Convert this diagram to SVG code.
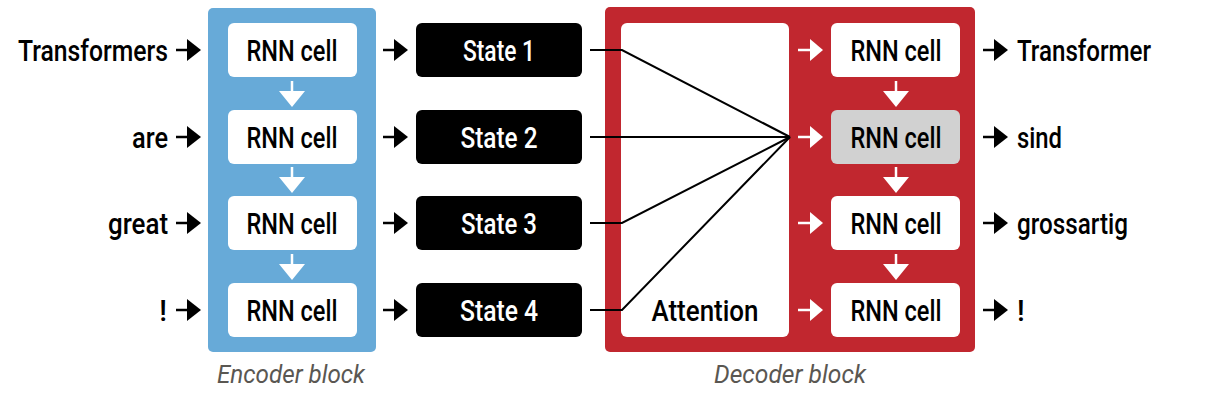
<svg xmlns="http://www.w3.org/2000/svg" width="1210" height="400" viewBox="0 0 1210 400">
  <style>
    .t { font-family: Roboto, "Liberation Sans", Arial, sans-serif; font-weight: 500; font-size: 29px; fill: #000; }
    .tw { font-family: Roboto, "Liberation Sans", Arial, sans-serif; font-weight: 500; font-size: 29px; fill: #fff; }
    .lbl { font-family: Roboto, "Liberation Sans", Arial, sans-serif; font-size: 26px; font-style: italic; fill: #5a5752; }
    .cell { fill: #fff; }
    .cellg { fill: #d1d1d1; }
    .state { fill: #000; }
    .ba { fill: #000; }
    .bs { stroke: #000; stroke-width: 2.5; }
    .wa { fill: #fff; }
    .ws { stroke: #fff; stroke-width: 2.5; }
    .att { stroke: #000; stroke-width: 2; fill: none; }
  </style>
  <defs>
    <g id="rarrow">
      <line class="bs" x1="0" y1="0" x2="13" y2="0"/>
      <polygon class="ba" points="11,-11 25,0 11,11"/>
    </g>
    <g id="wrarrow">
      <line class="ws" x1="0" y1="0" x2="13" y2="0"/>
      <polygon class="wa" points="12,-11 25,0 12,11"/>
    </g>
    <g id="wdarrow">
      <line class="ws" x1="0" y1="0" x2="0" y2="13"/>
      <polygon class="wa" points="-13,10 13,10 0,26"/>
    </g>
  </defs>

  <!-- blocks -->
  <g id="encoder-block">
    <rect x="208" y="8" width="168" height="344" rx="5" fill="#67aad8"/>
    <text class="lbl" x="291" y="383" text-anchor="middle" textLength="148" lengthAdjust="spacingAndGlyphs">Encoder block</text>
  </g>
  <g id="decoder-block">
    <rect x="605" y="7" width="370" height="345" rx="5" fill="#c1272f"/>
    <text class="lbl" x="790" y="383" text-anchor="middle" textLength="152" lengthAdjust="spacingAndGlyphs">Decoder block</text>
  </g>
  <g id="attention">
    <rect x="621" y="23" width="168" height="314" rx="6" fill="#fff"/>
    <text class="t" x="705" y="321" text-anchor="middle" textLength="107" lengthAdjust="spacingAndGlyphs">Attention</text>
  </g>

  <!-- inputs -->
  <g id="in1"><text class="t" x="168" y="61" text-anchor="end" textLength="150" lengthAdjust="spacingAndGlyphs">Transformers</text></g>
  <g id="in2"><text class="t" x="168" y="148" text-anchor="end" textLength="36" lengthAdjust="spacingAndGlyphs">are</text></g>
  <g id="in3"><text class="t" x="168" y="234" text-anchor="end" textLength="60" lengthAdjust="spacingAndGlyphs">great</text></g>
  <g id="in4"><text class="t" x="167" y="321" text-anchor="end">!</text></g>

  <!-- encoder cells -->
  <g id="enc1"><rect class="cell" x="228" y="23" width="129" height="54" rx="6"/><text class="t" x="292" y="61" text-anchor="middle" textLength="91" lengthAdjust="spacingAndGlyphs">RNN cell</text></g>
  <g id="enc2"><rect class="cell" x="228" y="110" width="129" height="54" rx="6"/><text class="t" x="292" y="148" text-anchor="middle" textLength="91" lengthAdjust="spacingAndGlyphs">RNN cell</text></g>
  <g id="enc3"><rect class="cell" x="228" y="196" width="129" height="54" rx="6"/><text class="t" x="292" y="234" text-anchor="middle" textLength="91" lengthAdjust="spacingAndGlyphs">RNN cell</text></g>
  <g id="enc4"><rect class="cell" x="228" y="283" width="129" height="54" rx="6"/><text class="t" x="292" y="321" text-anchor="middle" textLength="91" lengthAdjust="spacingAndGlyphs">RNN cell</text></g>

  <!-- states -->
  <g id="state1"><rect class="state" x="416" y="23" width="166" height="54" rx="6"/><text class="tw" x="499" y="61" text-anchor="middle" textLength="72" lengthAdjust="spacingAndGlyphs">State 1</text></g>
  <g id="state2"><rect class="state" x="416" y="110" width="166" height="54" rx="6"/><text class="tw" x="499" y="148" text-anchor="middle" textLength="77" lengthAdjust="spacingAndGlyphs">State 2</text></g>
  <g id="state3"><rect class="state" x="416" y="196" width="166" height="54" rx="6"/><text class="tw" x="499" y="234" text-anchor="middle" textLength="76" lengthAdjust="spacingAndGlyphs">State 3</text></g>
  <g id="state4"><rect class="state" x="416" y="283" width="166" height="54" rx="6"/><text class="tw" x="499" y="321" text-anchor="middle" textLength="78" lengthAdjust="spacingAndGlyphs">State 4</text></g>

  <!-- decoder cells -->
  <g id="dec1"><rect class="cell" x="831" y="23" width="129" height="54" rx="6"/><text class="t" x="896" y="61" text-anchor="middle" textLength="91" lengthAdjust="spacingAndGlyphs">RNN cell</text></g>
  <g id="dec2"><rect class="cellg" x="831" y="110" width="129" height="54" rx="6"/><text class="t" x="896" y="148" text-anchor="middle" textLength="91" lengthAdjust="spacingAndGlyphs">RNN cell</text></g>
  <g id="dec3"><rect class="cell" x="831" y="196" width="129" height="54" rx="6"/><text class="t" x="896" y="234" text-anchor="middle" textLength="91" lengthAdjust="spacingAndGlyphs">RNN cell</text></g>
  <g id="dec4"><rect class="cell" x="831" y="283" width="129" height="54" rx="6"/><text class="t" x="896" y="321" text-anchor="middle" textLength="91" lengthAdjust="spacingAndGlyphs">RNN cell</text></g>

  <!-- outputs -->
  <g id="out1"><text class="t" x="1017" y="61" textLength="134" lengthAdjust="spacingAndGlyphs">Transformer</text></g>
  <g id="out2"><text class="t" x="1017" y="148" textLength="45" lengthAdjust="spacingAndGlyphs">sind</text></g>
  <g id="out3"><text class="t" x="1017" y="234" textLength="111" lengthAdjust="spacingAndGlyphs">grossartig</text></g>
  <g id="out4"><text class="t" x="1017" y="321">!</text></g>

  <!-- connectors -->
  <g id="connectors">
    <use href="#rarrow" x="176" y="50"/>
    <use href="#rarrow" x="176" y="137"/>
    <use href="#rarrow" x="176" y="223"/>
    <use href="#rarrow" x="176" y="310"/>

    <use href="#wdarrow" x="292" y="81"/>
    <use href="#wdarrow" x="292" y="167"/>
    <use href="#wdarrow" x="292" y="254"/>

    <use href="#rarrow" x="383" y="50"/>
    <use href="#rarrow" x="383" y="137"/>
    <use href="#rarrow" x="383" y="223"/>
    <use href="#rarrow" x="383" y="310"/>

    <polyline class="att" points="590,50 622,50 790,137"/>
    <polyline class="att" points="590,137 790,137"/>
    <polyline class="att" points="590,223 622,223 790,137"/>
    <polyline class="att" points="590,310 622,310 790,137"/>

    <use href="#wrarrow" x="798" y="50"/>
    <use href="#wrarrow" x="798" y="137"/>
    <use href="#wrarrow" x="798" y="223"/>
    <use href="#wrarrow" x="798" y="310"/>

    <use href="#wdarrow" x="896" y="81"/>
    <use href="#wdarrow" x="896" y="167"/>
    <use href="#wdarrow" x="896" y="254"/>

    <use href="#rarrow" x="983" y="50"/>
    <use href="#rarrow" x="983" y="137"/>
    <use href="#rarrow" x="983" y="223"/>
    <use href="#rarrow" x="983" y="310"/>
  </g>
</svg>
